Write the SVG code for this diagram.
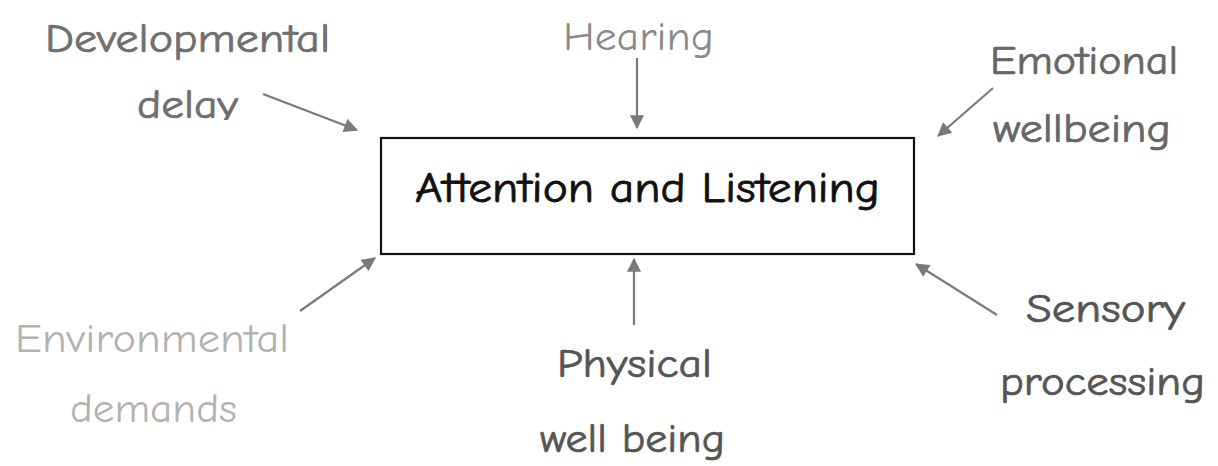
<svg xmlns="http://www.w3.org/2000/svg" width="1218" height="466" viewBox="0 0 1218 466">
<style>
.lbl{font-family:"Comic Sans MS","Comic Neue","DejaVu Sans",sans-serif;font-size:40px;stroke-width:0.7;}
.title{font-family:"Comic Sans MS","Comic Neue","DejaVu Sans",sans-serif;font-size:42px;fill:#111;stroke:#111;stroke-width:0.8;}
.conn line{stroke:#7a7a7a;stroke-width:2.2;fill:none;marker-end:url(#ah);}
</style>
<defs>
<marker id="ah" viewBox="0 0 12 12" refX="11" refY="6" markerWidth="16" markerHeight="14" markerUnits="userSpaceOnUse" orient="auto">
<path d="M0,0 L12,6 L0,12 Z" fill="#7a7a7a"/>
</marker>
<clipPath id="clipDelay"><rect x="100" y="80" width="180" height="40"/></clipPath>
</defs>
<rect width="1218" height="466" fill="#fff"/>
<g id="center">
<rect x="381" y="138" width="533" height="116" fill="#fff" stroke="#111" stroke-width="2.2"/>
<text class="title" x="415" y="202" textLength="465" lengthAdjust="spacingAndGlyphs">Attention and Listening</text>
</g>
<g id="developmental">
<text class="lbl" x="45" y="52" fill="#6f6f6f" stroke="#6f6f6f" textLength="285" lengthAdjust="spacingAndGlyphs">Developmental</text>
<text class="lbl" x="137" y="118" fill="#6f6f6f" stroke="#6f6f6f" textLength="101" lengthAdjust="spacingAndGlyphs" clip-path="url(#clipDelay)">delay</text>
</g>
<g id="hearing">
<text class="lbl" x="563" y="50" fill="#8a8a8a" textLength="151" lengthAdjust="spacingAndGlyphs">Hearing</text>
</g>
<g id="emotional">
<text class="lbl" x="990" y="74" fill="#666" stroke="#666" textLength="188" lengthAdjust="spacingAndGlyphs">Emotional</text>
<text class="lbl" x="993" y="142" fill="#666" stroke="#666" textLength="178" lengthAdjust="spacingAndGlyphs">wellbeing</text>
</g>
<g id="environmental">
<text class="lbl" x="15" y="352" fill="#b2b2b2" textLength="274" lengthAdjust="spacingAndGlyphs">Environmental</text>
<text class="lbl" x="70" y="422" fill="#b2b2b2" textLength="167" lengthAdjust="spacingAndGlyphs">demands</text>
</g>
<g id="physical">
<text class="lbl" x="557" y="377" fill="#555" stroke="#555" textLength="155" lengthAdjust="spacingAndGlyphs">Physical</text>
<text class="lbl" x="540" y="452" fill="#555" stroke="#555" textLength="185" lengthAdjust="spacingAndGlyphs">well being</text>
</g>
<g id="sensory">
<text class="lbl" x="1026" y="322" fill="#555" stroke="#555" textLength="159" lengthAdjust="spacingAndGlyphs">Sensory</text>
<text class="lbl" x="1000" y="395" fill="#555" stroke="#555" textLength="205" lengthAdjust="spacingAndGlyphs">processing</text>
</g>
<g id="connectors" class="conn">
<line x1="263" y1="94" x2="357" y2="130"/>
<line x1="637" y1="58" x2="637" y2="128"/>
<line x1="993" y1="88" x2="938" y2="136"/>
<line x1="300" y1="311" x2="375" y2="258"/>
<line x1="634" y1="325" x2="634" y2="259"/>
<line x1="997" y1="315" x2="916" y2="264"/>
</g>
</svg>
